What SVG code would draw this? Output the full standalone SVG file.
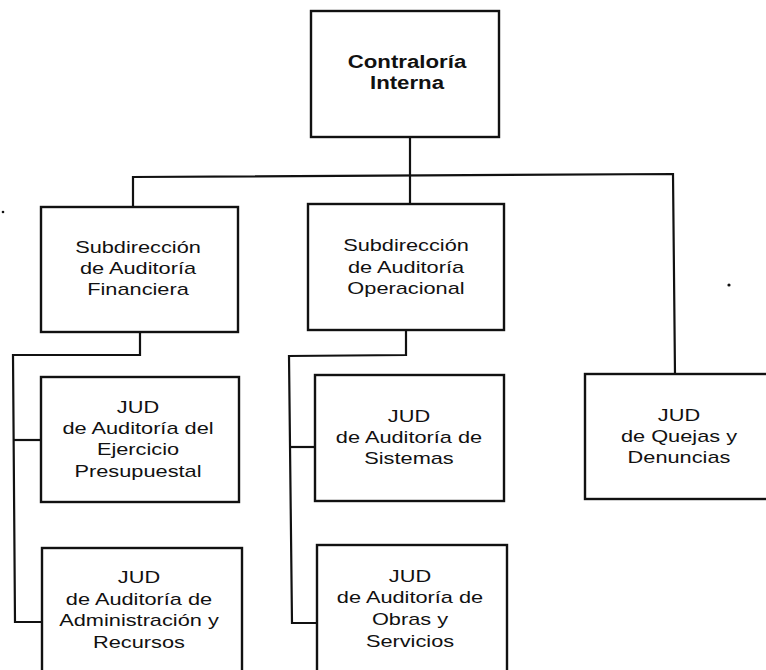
<svg xmlns="http://www.w3.org/2000/svg" width="766" height="670" viewBox="0 0 766 670">
<style>
.box{fill:#fff;stroke:#111;stroke-width:2.4}
.con{fill:none;stroke:#111;stroke-width:2.2;stroke-linejoin:miter}
text{font-family:"Liberation Sans",Arial,sans-serif;font-size:17px;fill:#111;text-anchor:middle}
.b{font-weight:bold;font-size:17.5px}
</style>
<rect width="766" height="670" fill="#fff"/>
<g id="connectors">
<polyline class="con" points="410,137 410,204"/>
<polyline class="con" points="133,208 133,177 673,174 675,374"/>
<polyline class="con" points="140,332 140,355 13,355 15,622 42,622"/>
<polyline class="con" points="13,440 41,440"/>
<polyline class="con" points="406,330 406,355 289,356 292,623 317,623"/>
<polyline class="con" points="290,447 315,447"/>
</g>
<g id="contraloria">
<rect class="box" x="311" y="11" width="188" height="126"/>
<text class="b" transform="translate(407 0) scale(1.27 1)"><tspan x="0" y="68">Contraloría</tspan><tspan x="0" y="89">Interna</tspan></text>
</g>
<g id="sub-financiera">
<rect class="box" x="41" y="207" width="197" height="125"/>
<text transform="translate(138 0) scale(1.28 1)"><tspan x="0" y="253">Subdirección</tspan><tspan x="0" y="274">de Auditoría</tspan><tspan x="0" y="295">Financiera</tspan></text>
</g>
<g id="sub-operacional">
<rect class="box" x="308" y="204" width="196" height="126"/>
<text transform="translate(406 0) scale(1.28 1)"><tspan x="0" y="251">Subdirección</tspan><tspan x="0" y="273">de Auditoría</tspan><tspan x="0" y="294">Operacional</tspan></text>
</g>
<g id="jud-ejercicio">
<rect class="box" x="41" y="377" width="198" height="125"/>
<text transform="translate(138 0) scale(1.28 1)"><tspan x="0" y="413">JUD</tspan><tspan x="0" y="434.5">de Auditoría del</tspan><tspan x="0" y="455.5">Ejercicio</tspan><tspan x="0" y="477">Presupuestal</tspan></text>
</g>
<g id="jud-administracion">
<rect class="box" x="42" y="548" width="200" height="130"/>
<text transform="translate(139 0) scale(1.28 1)"><tspan x="0" y="583.5">JUD</tspan><tspan x="0" y="605.5">de Auditoría de</tspan><tspan x="0" y="626">Administración y</tspan><tspan x="0" y="648">Recursos</tspan></text>
</g>
<g id="jud-sistemas">
<rect class="box" x="315" y="375" width="189" height="126"/>
<text transform="translate(409 0) scale(1.28 1)"><tspan x="0" y="422">JUD</tspan><tspan x="0" y="443.5">de Auditoría de</tspan><tspan x="0" y="464.5">Sistemas</tspan></text>
</g>
<g id="jud-obras">
<rect class="box" x="317" y="545" width="190" height="130"/>
<text transform="translate(410 0) scale(1.28 1)"><tspan x="0" y="582">JUD</tspan><tspan x="0" y="603.5">de Auditoría de</tspan><tspan x="0" y="625.5">Obras y</tspan><tspan x="0" y="647">Servicios</tspan></text>
</g>
<g id="jud-quejas">
<rect class="box" x="585" y="374" width="190" height="125"/>
<text transform="translate(679 0) scale(1.28 1)"><tspan x="0" y="421">JUD</tspan><tspan x="0" y="442">de Quejas y</tspan><tspan x="0" y="463">Denuncias</tspan></text>
</g>
<circle cx="729" cy="285" r="1.6" fill="#111"/>
<circle cx="3" cy="212" r="1.3" fill="#111"/>
</svg>
